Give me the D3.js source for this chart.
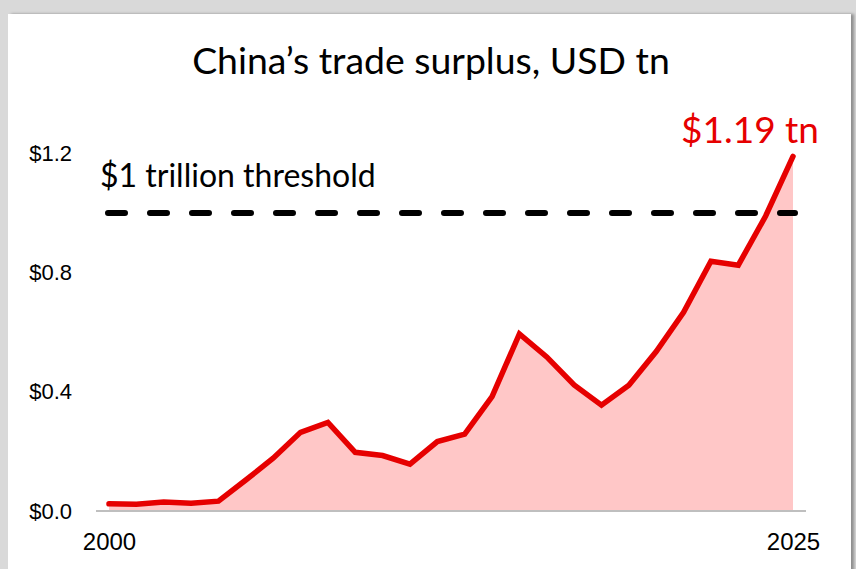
<!DOCTYPE html>
<html>
<head>
<meta charset="utf-8">
<script src="https://cdn.jsdelivr.net/npm/d3@7"></script>
<style>
  html, body { margin: 0; padding: 0; background: #d9d9d9; }
  svg { display: block; }
</style>
</head>
<body>
<div id="chart"></div>
<script>
// datos (billones de USD)
const years = [2000, 2001, 2002, 2003, 2004, 2005, 2006, 2007, 2008, 2009, 2010, 2011, 2012,
  2013, 2014, 2015, 2016, 2017, 2018, 2019, 2020, 2021, 2022, 2023, 2024, 2025];
const surplus = [0.024, 0.023, 0.030, 0.026, 0.033, 0.104, 0.177, 0.264, 0.297, 0.197, 0.186,
  0.157, 0.233, 0.258, 0.384, 0.594, 0.517, 0.423, 0.355, 0.422, 0.535, 0.667, 0.838, 0.825,
  0.990, 1.190];
const yTicks = [0, 0.4, 0.8, 1.2];
const xTicks = [2000, 2025];
const threshold = 1.0;
const thresholdLabel = "$1 trillion threshold";
const endLabel = "$1.19 tn";
const title = "China’s trade surplus, USD tn";

const W = 856, H = 569;
const svg = d3.select("#chart").append("svg").attr("width", W).attr("height", H);

const defs = svg.append("defs");
const f = defs.append("filter").attr("id", "sombra").attr("x", "-5%").attr("y", "-5%")
  .attr("width", "110%").attr("height", "110%");
f.append("feDropShadow").attr("dx", 3).attr("dy", 0).attr("stdDeviation", 1.5)
  .attr("flood-color", "#000").attr("flood-opacity", 0.35);

// panel blanco
svg.append("rect").attr("x", 8).attr("y", 14).attr("width", 843).attr("height", 600)
  .attr("fill", "#fff").attr("filter", "url(#sombra)");

const x = d3.scaleLinear().domain([2000, 2025]).range([109, 793]);
const y = d3.scaleLinear().domain([0, 1.2]).range([511, 153.4]);

const data = years.map((yr, i) => ({ year: yr, value: surplus[i] }));

// titulo
svg.append("text").attr("x", 431).attr("y", 74).attr("text-anchor", "middle")
  .style("font-family", "Lato, sans-serif").style("font-size", "37.4px").style("fill", "#000")
  .text(title);

// area
svg.append("path").datum(data)
  .attr("d", d3.area().x(d => x(d.year)).y0(y(0)).y1(d => y(d.value)))
  .attr("fill", "#ffc7c7");

// linea base
svg.append("line")
  .attr("x1", x(2000) - 13).attr("x2", x(2025) + 13)
  .attr("y1", y(0)).attr("y2", y(0))
  .attr("stroke", "#bfbfbf").attr("stroke-width", 2);

// eje y
const yAxis = svg.append("g").attr("transform", `translate(72,0)`)
  .call(d3.axisLeft(y).tickValues(yTicks).tickSize(0).tickPadding(0)
    .tickFormat(d => "$" + d3.format(".1f")(d)));
yAxis.select(".domain").remove();
yAxis.selectAll("text").style("font-family", "'Liberation Sans', Arial, sans-serif")
  .style("font-size", "22px").style("fill", "#000");

// eje x
const xAxis = svg.append("g").attr("transform", `translate(0,${y(0)})`)
  .call(d3.axisBottom(x).tickValues(xTicks).tickSize(0).tickPadding(22)
    .tickFormat(d3.format("d")));
xAxis.select(".domain").remove();
xAxis.selectAll("text").style("font-family", "'Liberation Sans', Arial, sans-serif")
  .style("font-size", "24px").style("fill", "#000");

// umbral
svg.append("line")
  .attr("x1", x(2000) - 1).attr("x2", x(2025) + 2)
  .attr("y1", y(threshold)).attr("y2", y(threshold))
  .attr("stroke", "#000").attr("stroke-width", 6)
  .attr("stroke-linecap", "round").attr("stroke-dasharray", "17 25");

svg.append("text").attr("x", x(2000) - 9).attr("y", y(threshold) - 26)
  .style("font-family", "Lato, sans-serif").style("font-size", "32px").style("fill", "#000")
  .text(thresholdLabel);

// linea principal
svg.append("path").datum(data)
  .attr("d", d3.line().x(d => x(d.year)).y(d => y(d.value)))
  .attr("fill", "none").attr("stroke", "#e60000").attr("stroke-width", 5.5)
  .attr("stroke-linejoin", "miter").attr("stroke-linecap", "round");

const last = data[data.length - 1];
svg.append("text").attr("x", x(last.year) + 26).attr("y", y(last.value) - 13)
  .attr("text-anchor", "end")
  .style("font-family", "Lato, sans-serif").style("font-size", "37px").style("fill", "#e60000")
  .text(endLabel);
</script>
</body>
</html>
